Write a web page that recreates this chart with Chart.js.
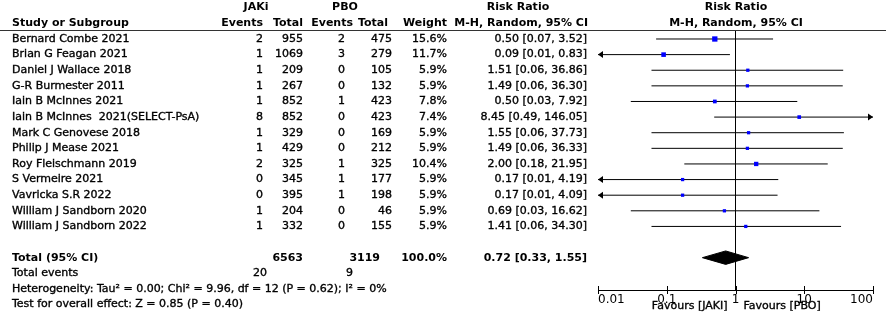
<!DOCTYPE html>
<html>
<head>
<meta charset="utf-8">
<script src="https://cdn.jsdelivr.net/npm/chart.js@4/dist/chart.umd.min.js"></script>
<style>
  body { margin: 0; background: #fff; }
  canvas { display: block; }
</style>
</head>
<body>
<canvas id="forest" width="886" height="320"></canvas>
<script>
// study rows
const studies = ["Bernard Combe 2021", "Brian G Feagan 2021", "Daniel J Wallace 2018", "G-R Burmester 2011",
  "Iain B McInnes 2021", "Iain B McInnes  2021(SELECT-PsA)", "Mark C Genovese 2018", "Philip J Mease 2021",
  "Roy Fleischmann 2019", "S Vermeire 2021", "Vavricka S.R 2022", "William J Sandborn 2020", "William J Sandborn 2022"];
const jakiEvents = [2, 1, 1, 1, 1, 8, 1, 1, 2, 0, 0, 1, 1];
const jakiTotal = [955, 1069, 209, 267, 852, 852, 329, 429, 325, 345, 395, 204, 332];
const pboEvents = [2, 3, 0, 0, 1, 0, 0, 0, 1, 1, 1, 0, 0];
const pboTotal = [475, 279, 105, 132, 423, 423, 169, 212, 325, 177, 198, 46, 155];
const weights = [15.6, 11.7, 5.9, 5.9, 7.8, 7.4, 5.9, 5.9, 10.4, 5.9, 5.9, 5.9, 5.9];
const riskRatio = [0.50, 0.09, 1.51, 1.49, 0.50, 8.45, 1.55, 1.49, 2.00, 0.17, 0.17, 0.69, 1.41];
const ciLow = [0.07, 0.01, 0.06, 0.06, 0.03, 0.49, 0.06, 0.06, 0.18, 0.01, 0.01, 0.03, 0.06];
const ciHigh = [3.52, 0.83, 36.86, 36.30, 7.92, 146.05, 37.73, 36.33, 21.95, 4.19, 4.09, 16.62, 34.30];

// pooled result
const totalJaki = 6563, totalPbo = 3119, totalWeight = 100.0;
const eventsJaki = 20, eventsPbo = 9;
const pooledRR = 0.72, pooledLow = 0.33, pooledHigh = 1.55;
const heterogeneity = "Heterogeneity: Tau\u00B2 = 0.00; Chi\u00B2 = 9.96, df = 12 (P = 0.62); I\u00B2 = 0%";
const overallTest = "Test for overall effect: Z = 0.85 (P = 0.40)";

// axis
const tickValues = [0.01, 0.1, 1, 10, 100];
const tickLabels = ["0.01", "0.1", "1", "10", "100"];
const favourLeft = "Favours [JAKI]", favourRight = "Favours [PBO]";

const ROW_MIN = 0.424, ROW_MAX = 17.07;
const totalRow = studies.length + 2;
const FONT = '"DejaVu Sans", Verdana, sans-serif';

function fmt(v) { return v.toFixed(2); }
function ciText(r, l, h) { return fmt(r) + " [" + fmt(l) + ", " + fmt(h) + "]"; }

// datasets: squares on top, then diamond, ref line, CI lines
const datasets = [];
datasets.push({
  data: riskRatio.map((v, i) => ({ x: v, y: i + 1 })),
  pointStyle: "rect",
  pointRadius: weights.map(w => Math.sqrt(w) * 0.95),
  backgroundColor: "#0000ff",
  borderColor: "#0000ff",
  borderWidth: 0,
  showLine: false
});
const dh = 0.43;
datasets.push({
  data: [{ x: pooledLow, y: totalRow }, { x: pooledRR, y: totalRow - dh }, { x: pooledHigh, y: totalRow },
         { x: pooledRR, y: totalRow + dh }, { x: pooledLow, y: totalRow }],
  showLine: true, fill: "shape", backgroundColor: "#000", borderColor: "#000", borderWidth: 1,
  pointRadius: 0, tension: 0
});
datasets.push({
  data: [{ x: 1, y: ROW_MIN }, { x: 1, y: ROW_MAX }],
  showLine: true, borderColor: "#000", borderWidth: 1, pointRadius: 0
});
for (let i = 0; i < studies.length; i++) {
  datasets.push({
    data: [{ x: ciLow[i], y: i + 1 }, { x: ciHigh[i], y: i + 1 }],
    showLine: true, borderColor: "#000", borderWidth: 1, pointRadius: 0
  });
}

const tablePlugin = {
  id: "forestTable",
  afterDraw(chart) {
    const ctx = chart.ctx;
    const xs = chart.scales.x, ys = chart.scales.y;
    const area = chart.chartArea;
    ctx.save();
    ctx.fillStyle = "#000";
    ctx.strokeStyle = "#000";
    ctx.textBaseline = "middle";

    function put(txt, x, y, align, bold) {
      ctx.font = (bold ? "bold " : "") + "11px " + FONT;
      ctx.textAlign = align;
      ctx.fillText(txt, x, y);
      if (!bold) {
        // the source text is a little heavier than plain weight
        ctx.lineWidth = 0.35;
        ctx.strokeText(txt, x, y);
      }
    }

    // headers
    put("JAKi", 256, 7, "center", true);
    put("PBO", 345, 7, "center", true);
    put("Risk Ratio", 518, 7, "center", true);
    put("Risk Ratio", 736, 7, "center", true);
    put("Study or Subgroup", 12, 23, "left", true);
    put("Events", 263, 23, "right", true);
    put("Total", 303, 23, "right", true);
    put("Events", 353, 23, "right", true);
    put("Total", 388, 23, "right", true);
    put("Weight", 447, 23, "right", true);
    put("M-H, Random, 95% CI", 588, 23, "right", true);
    put("M-H, Random, 95% CI", 736, 23, "center", true);

    ctx.strokeStyle = "#333";
    ctx.lineWidth = 1;
    ctx.beginPath();
    ctx.moveTo(0, 30.5);
    ctx.lineTo(886, 30.5);
    ctx.stroke();
    ctx.strokeStyle = "#000";

    // study rows
    for (let i = 0; i < studies.length; i++) {
      const y = ys.getPixelForValue(i + 1);
      put(studies[i], 12, y, "left", false);
      put(String(jakiEvents[i]), 263, y, "right", false);
      put(String(jakiTotal[i]), 303, y, "right", false);
      put(String(pboEvents[i]), 345, y, "right", false);
      put(String(pboTotal[i]), 392, y, "right", false);
      put(weights[i].toFixed(1) + "%", 447, y, "right", false);
      put(ciText(riskRatio[i], ciLow[i], ciHigh[i]), 587, y, "right", false);
    }

    // totals
    const ty = ys.getPixelForValue(totalRow);
    put("Total (95% CI)", 12, ty, "left", true);
    put(String(totalJaki), 303, ty, "right", true);
    put(String(totalPbo), 380, ty, "right", true);
    put(totalWeight.toFixed(1) + "%", 447, ty, "right", true);
    put(ciText(pooledRR, pooledLow, pooledHigh), 587, ty, "right", true);

    const ey = ys.getPixelForValue(totalRow + 1);
    put("Total events", 12, ey, "left", false);
    put(String(eventsJaki), 267, ey, "right", false);
    put(String(eventsPbo), 353, ey, "right", false);
    put(heterogeneity, 12, ys.getPixelForValue(totalRow + 2), "left", false);
    put(overallTest, 12, ys.getPixelForValue(totalRow + 3), "left", false);

    // arrow heads where CI runs off the axis
    ctx.fillStyle = "#000";
    for (let i = 0; i < studies.length; i++) {
      const y = ys.getPixelForValue(i + 1);
      if (ciLow[i] <= xs.min) {
        const x = xs.getPixelForValue(xs.min);
        ctx.beginPath();
        ctx.moveTo(x, y); ctx.lineTo(x + 5, y - 3.5); ctx.lineTo(x + 5, y + 3.5);
        ctx.closePath(); ctx.fill();
      }
      if (ciHigh[i] >= xs.max) {
        const x = xs.getPixelForValue(xs.max);
        ctx.beginPath();
        ctx.moveTo(x, y); ctx.lineTo(x - 5, y - 3.5); ctx.lineTo(x - 5, y + 3.5);
        ctx.closePath(); ctx.fill();
      }
    }

    // tick marks across the axis line
    ctx.lineWidth = 1;
    ctx.beginPath();
    tickValues.forEach(v => {
      const x = Math.round(xs.getPixelForValue(v)) + 0.5;
      ctx.moveTo(x, area.bottom - 4);
      ctx.lineTo(x, area.bottom + 4);
    });
    ctx.stroke();

    // favours labels
    const cx = xs.getPixelForValue(1);
    ctx.fillStyle = "#000";
    put(favourLeft, cx - 8, 306, "right", false);
    put(favourRight, cx + 8, 306, "left", false);
    ctx.restore();
  }
};

new Chart(document.getElementById("forest"), {
  type: "scatter",
  data: { datasets: datasets },
  options: {
    responsive: false,
    animation: false,
    devicePixelRatio: 1,
    layout: { padding: { left: 598, right: 13, top: 30, bottom: 0 } },
    plugins: { legend: { display: false }, tooltip: { enabled: false } },
    scales: {
      x: {
        type: "logarithmic",
        position: "bottom",
        min: 0.01,
        max: 100,
        afterBuildTicks(scale) {
          scale.ticks = tickValues.map(v => ({ value: v, major: true }));
        },
        afterFit(scale) { scale.height = 30; },
        grid: { drawOnChartArea: false, drawTicks: false },
        border: { display: true, color: "#000", width: 1 },
        ticks: {
          align: "inner",
          maxRotation: 0,
          autoSkip: false,
          padding: 3,
          color: "#000",
          font: { family: FONT, size: 12 },
          callback: (v, i) => tickLabels[i]
        }
      },
      y: {
        type: "linear",
        reverse: true,
        min: ROW_MIN,
        max: ROW_MAX,
        display: false
      }
    }
  },
  plugins: [tablePlugin]
});
</script>
</body>
</html>
